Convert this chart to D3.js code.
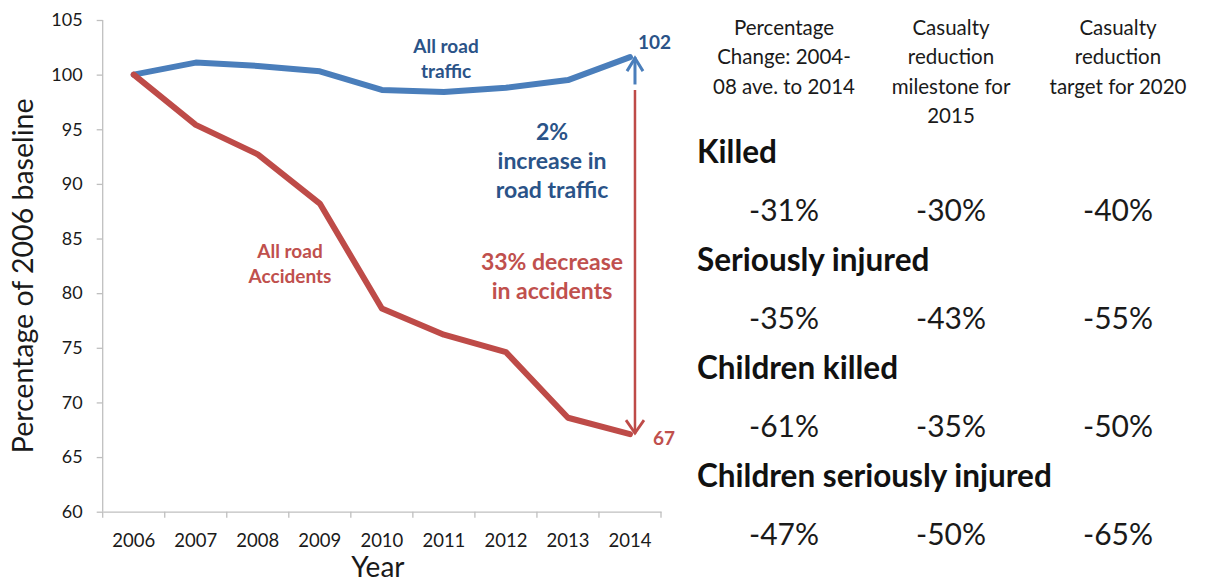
<!DOCTYPE html>
<html>
<head>
<meta charset="utf-8">
<script src="https://cdn.jsdelivr.net/npm/d3@7"></script>
<style>
  html, body { margin: 0; padding: 0; background: #fff; }
  svg { display: block; font-family: Lato, "Open Sans", sans-serif; }
</style>
</head>
<body>
<svg id="chart" width="1211" height="583"></svg>
<script>
// ---------- data ----------
const years = ["2006", "2007", "2008", "2009", "2010", "2011", "2012", "2013", "2014"];
const roadTraffic = [100, 101.1, 100.8, 100.3, 98.6, 98.4, 98.8, 99.5, 101.6];
const roadAccidents = [100, 95.4, 92.7, 88.2, 78.6, 76.2, 74.6, 68.6, 67.1];
const yTicks = [60, 65, 70, 75, 80, 85, 90, 95, 100, 105];

const tableHeaders = [
  ["Percentage", "Change:  2004-", "08 ave. to 2014"],
  ["Casualty", "reduction", "milestone for", "2015"],
  ["Casualty", "reduction", "target for 2020"]
];
const casualtyGroups = ["Killed", "Seriously injured", "Children killed", "Children seriously injured"];
const changeTo2014 = ["-31%", "-35%", "-61%", "-47%"];
const milestone2015 = ["-30%", "-43%", "-35%", "-50%"];
const target2020 = ["-40%", "-55%", "-50%", "-65%"];

// ---------- setup ----------
const svg = d3.select("#chart");
const blue = "#4a7ebb", red = "#be4b48";
const blueText = "#2a5388", redText = "#c0504d";
const axisGrey = "#bfbfbf";

const x = d3.scaleBand().domain(years).range([102.7, 661]).padding(0);
const y = d3.scaleLinear().domain([60, 105]).range([511.7, 20]);

// axes
const xAxis = svg.append("g").attr("transform", `translate(0,${y(60)})`)
  .call(d3.axisBottom(x).tickSize(0).tickPadding(22));
xAxis.select(".domain").attr("stroke", axisGrey).attr("stroke-width", 1.3);
xAxis.selectAll("text").attr("font-size", 18.5).attr("fill", "#1a1a1a").attr("font-family", "Lato");
// tick marks at band boundaries
svg.append("g").selectAll("line").data(years.concat(["end"])).join("line")
  .attr("x1", (d, i) => i < years.length ? x(d) : x(years[years.length - 1]) + x.bandwidth())
  .attr("x2", (d, i) => i < years.length ? x(d) : x(years[years.length - 1]) + x.bandwidth())
  .attr("y1", y(60)).attr("y2", y(60) + 6)
  .attr("stroke", axisGrey).attr("stroke-width", 1.3);

const yAxis = svg.append("g").attr("transform", `translate(${x.range()[0]},0)`)
  .call(d3.axisLeft(y).tickValues(yTicks).tickSize(6).tickPadding(14));
yAxis.select(".domain").attr("stroke", axisGrey).attr("stroke-width", 1.3).attr("d", `M0,${y(105)}V${y(60)}`);
yAxis.selectAll(".tick line").attr("stroke", axisGrey).attr("stroke-width", 1.3);
yAxis.selectAll("text").attr("font-size", 18).attr("fill", "#1a1a1a").attr("font-family", "Lato");

// axis titles
svg.append("text").attr("transform", `translate(33,${(y(105) + y(60)) / 2 + 10}) rotate(-90)`)
  .attr("text-anchor", "middle").attr("font-size", 28.5).attr("fill", "#1a1a1a")
  .text("Percentage of 2006 baseline");
svg.append("text").attr("x", (x.range()[0] + x.range()[1]) / 2 - 4).attr("y", 577)
  .attr("text-anchor", "middle").attr("font-size", 28).attr("fill", "#1a1a1a")
  .text("Year");

// lines
const cx = d => x(d) + x.bandwidth() / 2;
const line = d3.line().x((d, i) => cx(years[i])).y(d => y(d));
svg.append("path").datum(roadTraffic).attr("d", line)
  .attr("fill", "none").attr("stroke", blue).attr("stroke-width", 6)
  .attr("stroke-linejoin", "round").attr("stroke-linecap", "round");
svg.append("path").datum(roadAccidents).attr("d", line)
  .attr("fill", "none").attr("stroke", red).attr("stroke-width", 6)
  .attr("stroke-linejoin", "round").attr("stroke-linecap", "round");

// double arrow
const lastYear = years[years.length - 1];
const ax = cx(lastYear) + 5;
const topVal = roadTraffic[roadTraffic.length - 1];
const botVal = roadAccidents[roadAccidents.length - 1];
// blue up arrow
svg.append("line").attr("x1", ax).attr("x2", ax).attr("y1", y(topVal)).attr("y2", y(99.1))
  .attr("stroke", blue).attr("stroke-width", 3);
svg.append("path").attr("d", `M${ax - 8},${y(topVal) + 14}L${ax},${y(topVal) + 1}L${ax + 8},${y(topVal) + 14}`)
  .attr("fill", "none").attr("stroke", blue).attr("stroke-width", 3).attr("stroke-linejoin", "miter");
// red down arrow
svg.append("line").attr("x1", ax).attr("x2", ax).attr("y1", y(98.6)).attr("y2", y(botVal))
  .attr("stroke", red).attr("stroke-width", 2.5);
svg.append("path").attr("d", `M${ax - 9},${y(botVal) - 14}L${ax},${y(botVal) - 1}L${ax + 9},${y(botVal) - 14}`)
  .attr("fill", "none").attr("stroke", red).attr("stroke-width", 2.8);

// end labels
svg.append("text").attr("x", ax + 3).attr("y", y(topVal) - 8).attr("font-size", 19).attr("font-weight", "bold")
  .attr("fill", blueText).text(Math.round(topVal));
svg.append("text").attr("x", ax + 18).attr("y", y(botVal) + 11).attr("font-size", 19).attr("font-weight", "bold")
  .attr("fill", redText).text(Math.round(botVal));

// annotations
function multiline(lines, cxp, baseY, dy, size, color) {
  const t = svg.append("text").attr("text-anchor", "middle").attr("font-size", size)
    .attr("font-weight", "bold").attr("fill", color);
  lines.forEach((l, i) => t.append("tspan").attr("x", cxp).attr("y", baseY + i * dy).text(l));
}
multiline(["All road", "traffic"], 446, 53, 24.5, 19, blueText);
multiline(["2%", "increase in", "road traffic"], 552, 140, 29, 23, blueText);
multiline(["33% decrease", "in accidents"], 552, 270, 29, 23, redText);
multiline(["All road", "Accidents"], 290, 258, 25, 19, redText);

// ---------- table ----------
const col = d3.scalePoint().domain([0, 1, 2]).range([784, 1118]);
const headerG = svg.append("g");
tableHeaders.forEach((lines, c) => {
  const t = headerG.append("text").attr("text-anchor", "middle").attr("font-size", 20.5).attr("fill", "#1a1a1a");
  lines.forEach((l, i) => t.append("tspan").attr("x", col(c)).attr("y", 35 + i * 29.3).text(l));
});

const row = d3.scaleLinear().domain([0, casualtyGroups.length - 1]).range([163, 487]);
casualtyGroups.forEach((g, i) => {
  svg.append("text").attr("x", 697).attr("y", row(i)).attr("font-size", 31.5).attr("font-weight", "bold")
    .attr("fill", "#111").text(g);
  [changeTo2014, milestone2015, target2020].forEach((arr, c) => {
    svg.append("text").attr("x", col(c)).attr("y", row(i) + 58).attr("text-anchor", "middle")
      .attr("font-size", 30).attr("fill", "#1a1a1a").text(arr[i]);
  });
});
</script>
</body>
</html>
